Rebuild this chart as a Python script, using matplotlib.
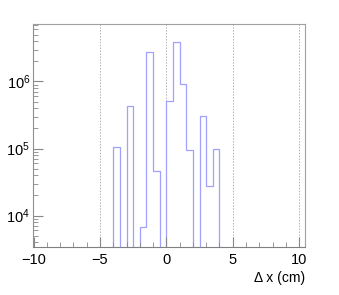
import matplotlib
matplotlib.use("Agg")
import matplotlib.pyplot as plt
import numpy as np
from matplotlib.ticker import FixedLocator, LogLocator, NullFormatter

plt.rcParams['font.family'] = ['Liberation Sans', 'DejaVu Sans']

# histogram of delta x (bin width 0.5 cm)
edges = np.arange(-4.0, 4.01, 0.5)
counts = [1.07e5, 0, 4.27e5, 0, 6.85e3, 2.8e6, 4.6e4, 0,
          5.2e5, 3.82e6, 9.25e5, 9.4e4, 0, 3.1e5, 2.74e4, 9.9e4]
xticks = [-10, -5, 0, 5, 10]

fig = plt.figure(figsize=(3.39, 2.95), dpi=100)
ax = fig.add_axes([0.0973, 0.1627, 0.9 - 0.0973, 0.9186 - 0.1627])

ax.stairs(counts, edges, color='#a0a0ff', lw=0.9, baseline=1e-3)

ax.set_yscale('log')
ax.set_xlim(-10.05, 10.45)
ax.set_ylim(3.4e3, 7.2e6)

for x in xticks[1:]:
    ax.axvline(x, color='#b0b0b0', lw=0.7, ls=(0, (1.5, 1.5)), zorder=0)

ax.xaxis.set_major_locator(FixedLocator(xticks))
ax.xaxis.set_minor_locator(FixedLocator(np.arange(-10, 11, 1)))
ax.yaxis.set_minor_locator(LogLocator(base=10, subs=np.arange(2, 10)))
ax.yaxis.set_minor_formatter(NullFormatter())

ax.tick_params(which='both', direction='in', top=False, right=False,
               colors='#888888', labelcolor='black', labelsize=10.5)
ax.tick_params(which='major', length=7, width=0.8)
ax.tick_params(which='minor', length=3.5, width=0.6)
ax.tick_params(axis='x', pad=4)
ax.tick_params(axis='y', pad=2)

for s in ax.spines.values():
    s.set_color('#a0a0a0')
    s.set_linewidth(0.8)
ax.spines['bottom'].set_color('#808080')
ax.spines['left'].set_color('#909090')

ax.set_xlabel('\u0394 x (cm)', fontsize=10, loc='right', labelpad=3)

fig.savefig('out.png', dpi=100)
